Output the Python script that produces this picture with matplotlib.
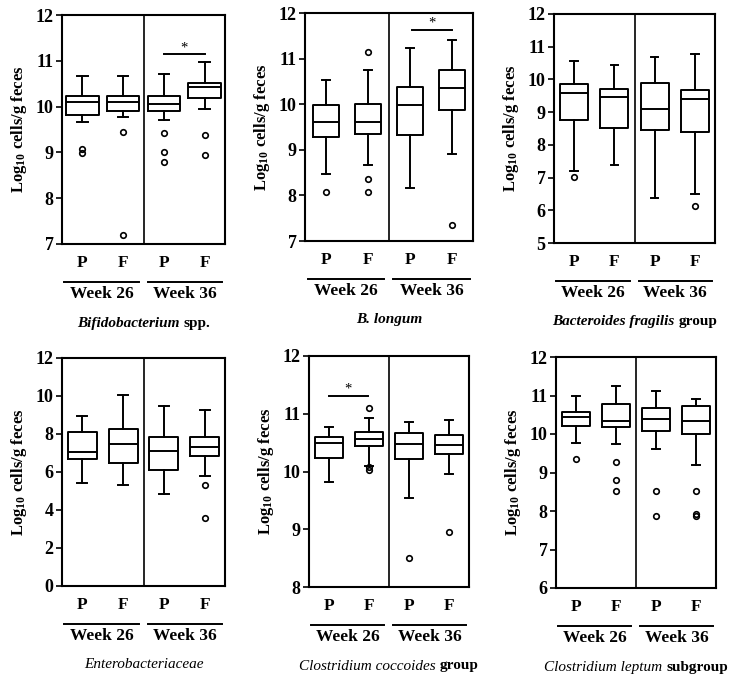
import matplotlib
matplotlib.use('Agg')
import matplotlib.pyplot as plt
from matplotlib.offsetbox import TextArea, HPacker, AnnotationBbox

plt.rcParams['font.family'] = 'Liberation Serif'
plt.rcParams['font.weight'] = 'bold'
plt.rcParams['mathtext.fontset'] = 'custom'
plt.rcParams['mathtext.rm'] = 'Liberation Serif'
plt.rcParams['mathtext.it'] = 'Liberation Serif:italic'
plt.rcParams['mathtext.bf'] = 'Liberation Serif:bold'

groups = ['P', 'F', 'P', 'F']
weeks = ['Week 26', 'Week 36']

# box summaries: [whislo, q1, median, q3, whishi]
bifido_stats = [[9.67, 9.81, 10.10, 10.24, 10.66], [9.78, 9.91, 10.10, 10.24, 10.67],
                [9.71, 9.91, 10.05, 10.24, 10.72], [9.94, 10.18, 10.42, 10.52, 10.97]]
bifido_fliers = [[9.08, 8.98], [9.45, 7.20], [9.43, 9.00, 8.80], [9.39, 8.94]]

longum_stats = [[8.47, 9.29, 9.60, 9.98, 10.53], [8.67, 9.34, 9.61, 10.00, 10.74],
                [8.17, 9.33, 9.98, 10.37, 11.23], [8.90, 9.87, 10.36, 10.75, 11.40]]
longum_fliers = [[8.08], [11.14, 8.36, 8.08], [], [7.34]]

bfrag_stats = [[7.21, 8.77, 9.60, 9.85, 10.57], [7.37, 8.53, 9.45, 9.71, 10.43],
               [6.38, 8.46, 9.09, 9.88, 10.70], [6.51, 8.38, 9.40, 9.67, 10.77]]
bfrag_fliers = [[7.01], [], [], [6.13]]

entero_stats = [[5.41, 6.67, 7.04, 8.13, 8.96], [5.29, 6.46, 7.48, 8.26, 10.07],
                [4.85, 6.11, 7.13, 7.83, 9.49], [5.80, 6.85, 7.34, 7.83, 9.28]]
entero_fliers = [[], [], [], [5.32, 3.56]]

ccocc_stats = [[9.81, 10.24, 10.49, 10.59, 10.77], [10.10, 10.44, 10.57, 10.69, 10.93],
               [9.54, 10.21, 10.47, 10.66, 10.85], [9.96, 10.31, 10.46, 10.64, 10.90]]
ccocc_fliers = [[], [11.10, 10.07, 10.02], [8.50], [8.95]]

clept_stats = [[9.77, 10.21, 10.45, 10.57, 10.99], [9.75, 10.18, 10.34, 10.79, 11.25],
               [9.62, 10.08, 10.40, 10.68, 11.12], [9.19, 10.01, 10.34, 10.73, 10.92]]
clept_fliers = [[9.35], [9.27, 8.80, 8.52], [8.52, 7.88], [8.52, 7.92, 7.88]]

# (name, rest, bold name)
titles = [('Bifidobacterium', 'spp.', True), ('B. longum', '', True),
          ('Bacteroides fragilis', 'group', True), ('Enterobacteriaceae', '', False),
          ('Clostridium coccoides', 'group', False), ('Clostridium leptum', 'subgroup', False)]

panels = [
    (bifido_stats, bifido_fliers, (7, 12, 1), (3, 4, 11.14), 0.80, 0.26, [62, 225, 15, 244]),
    (longum_stats, longum_fliers, (7, 12, 1), (3.05, 4, 11.63), 0.62, 0.20, [305, 473, 13, 241]),
    (bfrag_stats, bfrag_fliers, (5, 12, 1), None, 0.69, 0.19, [554, 715, 14, 243]),
    (entero_stats, entero_fliers, (0, 12, 2), None, 0.71, 0.24, [62, 225, 358, 586]),
    (ccocc_stats, ccocc_fliers, (8, 12, 1), (1, 1.97, 11.31), 0.68, 0.18, [309, 469, 356, 587]),
    (clept_stats, clept_fliers, (6, 12, 1), None, 0.69, 0.20, [556, 716, 357, 588]),
]

W, H = 730, 678
fig = plt.figure(figsize=(W / 100, H / 100), dpi=100)

for (stats, fliers, yl, sig, bw, cw, box), (name, rest, nbold) in zip(panels, titles):
    l, r, t, b = box
    ax = fig.add_axes([l / W, (H - b) / H, (r - l) / W, (b - t) / H])
    ax_h = b - t

    bstats = []
    for s, f in zip(stats, fliers):
        bstats.append(dict(whislo=s[0], q1=s[1], med=s[2], q3=s[3], whishi=s[4], fliers=f))
    lw = 1.4
    ax.bxp(bstats, positions=[1, 2, 3, 4], widths=bw, capwidths=cw,
           boxprops=dict(color='black', linewidth=lw),
           medianprops=dict(color='black', linewidth=lw),
           whiskerprops=dict(color='black', linewidth=lw),
           capprops=dict(color='black', linewidth=lw),
           flierprops=dict(marker='o', markersize=4, markerfacecolor='none',
                           markeredgecolor='black', markeredgewidth=1.2))

    ax.axvline(2.5, color='black', lw=1.2)
    ax.set_xlim(0.5, 4.5)
    ax.set_ylim(yl[0], yl[1])
    ax.set_yticks(range(yl[0], yl[1] + 1, yl[2]))
    ax.set_xticks([1, 2, 3, 4], groups)
    ax.tick_params(axis='x', length=0, pad=8, labelsize=12.5)
    ax.tick_params(axis='y', direction='out', length=4, width=1.2, pad=2, labelsize=13)
    for sp in ax.spines.values():
        sp.set_linewidth(1.5)
    ax.set_ylabel(r'$\mathbf{Log}_{10}\ \mathbf{cells/g\ feces}$', fontsize=12, labelpad=5)

    if sig is not None:
        x0, x1, yb = sig
        ax.plot([x0, x1], [yb, yb], color='black', lw=1.4)
        ax.annotate('*', xy=((x0 + x1) / 2, yb), xytext=(0, 0), textcoords='offset pixels',
                    ha='center', va='bottom', fontsize=10.5, fontweight='normal')

    # week brackets under the P/F labels
    yline = -38 / ax_h
    for xa, xb, wk in [(0.015, 0.47, weeks[0]), (0.525, 0.98, weeks[1])]:
        ax.plot([xa, xb], [yline, yline], color='black', lw=1.4,
                transform=ax.transAxes, clip_on=False)
        ax.annotate(wk, xy=((xa + xb) / 2, 0), xycoords='axes fraction',
                    xytext=(0, -54), textcoords='offset pixels',
                    ha='center', va='baseline', fontsize=12.5)

    parts = [TextArea(name, textprops=dict(style='italic', fontsize=11,
                                           fontweight='bold' if nbold else 'normal'))]
    if rest:
        parts.append(TextArea(rest, textprops=dict(fontsize=11, fontweight='bold')))
    pack = HPacker(children=parts, align='baseline', pad=0, sep=3)
    ab = AnnotationBbox(pack, (0.5, 0), xycoords='axes fraction',
                        xybox=(0, -79), boxcoords='offset pixels',
                        frameon=False, box_alignment=(0.5, 0.5))
    ax.add_artist(ab)

fig.savefig('out.png', dpi=100)
